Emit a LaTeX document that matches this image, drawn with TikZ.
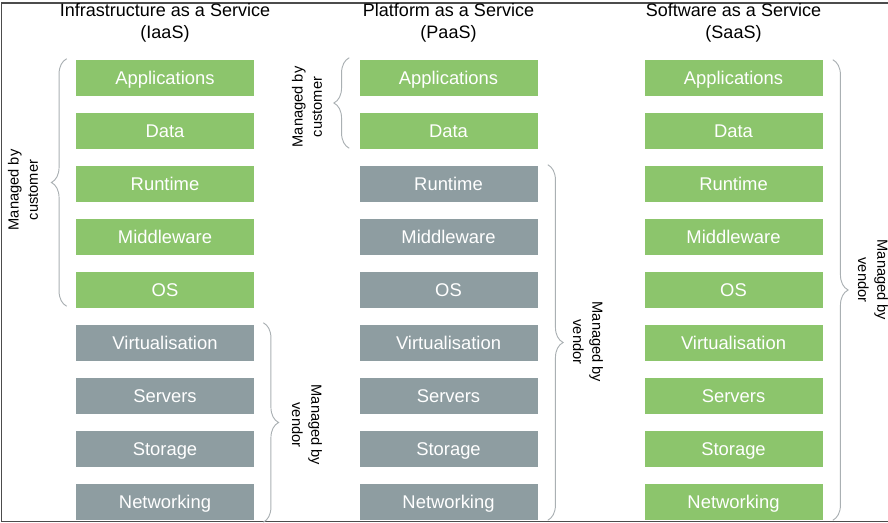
\documentclass[tikz,border=0pt]{standalone}
\usepackage{fontspec}
\setmainfont{Liberation Sans}
\usetikzlibrary{calc,decorations.pathreplacing}
\definecolor{custgreen}{RGB}{140,197,108}
\definecolor{vendgrey}{RGB}{142,157,161}
\definecolor{bracegrey}{RGB}{170,176,179}
\begin{document}
\begin{tikzpicture}[x=0.75pt,y=-0.75pt,
    layer/.style={minimum width=133.5pt,minimum height=27pt,inner sep=0pt,text height=10pt,text depth=0.5pt,text=white,font=\fontsize{13.8}{16}\selectfont},
    cust/.style={layer,fill=custgreen},
    vend/.style={layer,fill=vendgrey},
    title/.style={align=center,font=\fontsize{13.5}{16.5}\selectfont},
    bracel/.style={draw=bracegrey,line width=0.7pt,decorate,decoration={brace,amplitude=11.5pt}},
    who/.style={align=center,font=\fontsize{11}{14.5}\selectfont}]
    \useasboundingbox (0,0) rectangle (888,523);
    % frame of the cut-out
    \draw[line width=1.2pt,black!70] (888,3) -- (1.5,3) -- (1.5,521.5) -- (888,521.5);
    % column titles
    \node[title] (iaas) at (165,23) {Infrastructure as a Service\\(IaaS)};
    \node[title] (paas) at (448.5,23) {Platform as a Service\\(PaaS)};
    \node[title] (saas) at (733.5,23) {Software as a Service\\(SaaS)};
    % the stacks
    \foreach \lbl/\sa/\sb [count=\i] in {Applications/cust/cust,Data/cust/cust,Runtime/cust/vend,Middleware/cust/vend,OS/cust/vend,Virtualisation/vend/vend,Servers/vend/vend,Storage/vend/vend,Networking/vend/vend} {
        \node[\sa] (a\i) at (165,{25+53*\i}) {\lbl};
        \node[\sb] (b\i) at (448.5,{25+53*\i}) {\lbl};
        \node[cust] (c\i) at (733.5,{25+53*\i}) {\lbl};
    }
    % braces
    \draw[bracel] ($(a5.south west)+(-9,-2)$) -- ($(a1.north west)+(-9,-1)$);
    \draw[bracel] ($(a6.north east)+(9,-2)$) -- ($(a9.south east)+(9,2)$);
    \draw[bracel] ($(b2.south west)+(-10,-1)$) -- ($(b1.north west)+(-10,-2)$);
    \draw[bracel] ($(b3.north east)+(10,-1)$) -- ($(b9.south east)+(10,0)$);
    \draw[bracel] ($(c1.north east)+(10,0)$) -- ($(c9.south east)+(10,0)$);
    % who manages what
    \node[who,rotate=90] (custa) at (23,190) {Managed by\\customer};
    \node[who,rotate=-90] (venda) at (307,425) {Managed by\\vendor};
    \node[who,rotate=90] (custb) at (307,107) {Managed by\\customer};
    \node[who,rotate=-90] (vendb) at (588,342) {Managed by\\vendor};
    \node[who,rotate=-90] (vendc) at (873,280) {Managed by\\vendor};
\end{tikzpicture}
\end{document}
